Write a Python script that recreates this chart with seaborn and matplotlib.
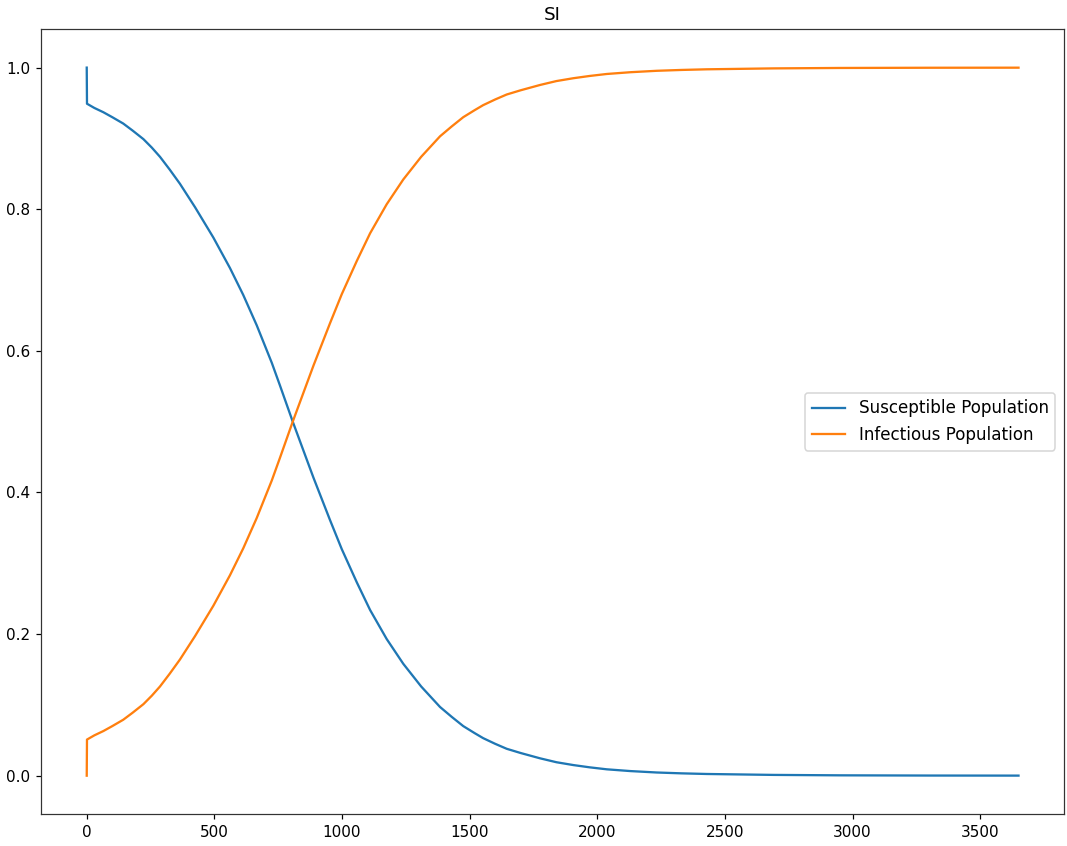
import numpy as np
import pandas as pd
import matplotlib
matplotlib.use("Agg")
import matplotlib.pyplot as plt
import seaborn as sns

# Days and population fractions
days = [0, 1, 30, 65, 100, 143, 180, 222, 255, 287, 325, 365, 424, 496, 561,
        613, 666, 725, 757, 807, 888, 953, 999, 1058, 1110, 1175, 1240, 1310,
        1384, 1430, 1475, 1520, 1553, 1600, 1645, 1700, 1776, 1840, 1906, 1970,
        2037, 2130, 2233, 2330, 2429, 2690, 2950, 3300, 3650]
susceptible = [1.0, 0.949, 0.943, 0.937, 0.930, 0.921, 0.911, 0.899, 0.887,
               0.874, 0.856, 0.836, 0.803, 0.760, 0.717, 0.679, 0.636, 0.583,
               0.551, 0.500, 0.421, 0.361, 0.320, 0.273, 0.234, 0.193, 0.158,
               0.126, 0.097, 0.083, 0.070, 0.060, 0.053, 0.045, 0.038, 0.032,
               0.0245, 0.019, 0.0150, 0.0118, 0.0090, 0.0065, 0.0045, 0.0033,
               0.0024, 0.0011, 0.0005, 0.0002, 0.0001]
infectious = [0.0, 0.051, 0.057, 0.063, 0.070, 0.079, 0.089, 0.101, 0.113,
              0.126, 0.144, 0.164, 0.197, 0.240, 0.283, 0.321, 0.364, 0.417,
              0.449, 0.500, 0.579, 0.639, 0.680, 0.727, 0.766, 0.807, 0.842,
              0.874, 0.903, 0.917, 0.930, 0.940, 0.947, 0.955, 0.962, 0.968,
              0.9755, 0.981, 0.9850, 0.9882, 0.9910, 0.9935, 0.9955, 0.9967,
              0.9976, 0.9989, 0.9995, 0.9998, 0.9999]

df = pd.DataFrame({
    'day': days * 2,
    'fraction': susceptible + infectious,
    'group': ['Susceptible Population'] * len(days) + ['Infectious Population'] * len(days),
})

dpi = 110
fig = plt.figure(figsize=(1067 / dpi, 846 / dpi), dpi=dpi)
ax = fig.add_axes([0.0387, 0.0375, 0.9582, 0.9282])

sns.lineplot(data=df, x='day', y='fraction', hue='group', ax=ax,
             palette=['#1f77b4', '#ff7f0e'], linewidth=1.5, sort=False)

ax.set_title('SI')
ax.set_xlabel('')
ax.set_ylabel('')
ax.set_xticks([0, 500, 1000, 1500, 2000, 2500, 3000, 3500])
ax.set_xlim(-178, 3827)
ax.set_ylim(-0.0545, 1.0545)
for sp in ax.spines.values():
    sp.set_color('#333333')
ax.legend(loc='center right', title=None, fontsize=11)

fig.savefig('out.png', dpi=dpi)
